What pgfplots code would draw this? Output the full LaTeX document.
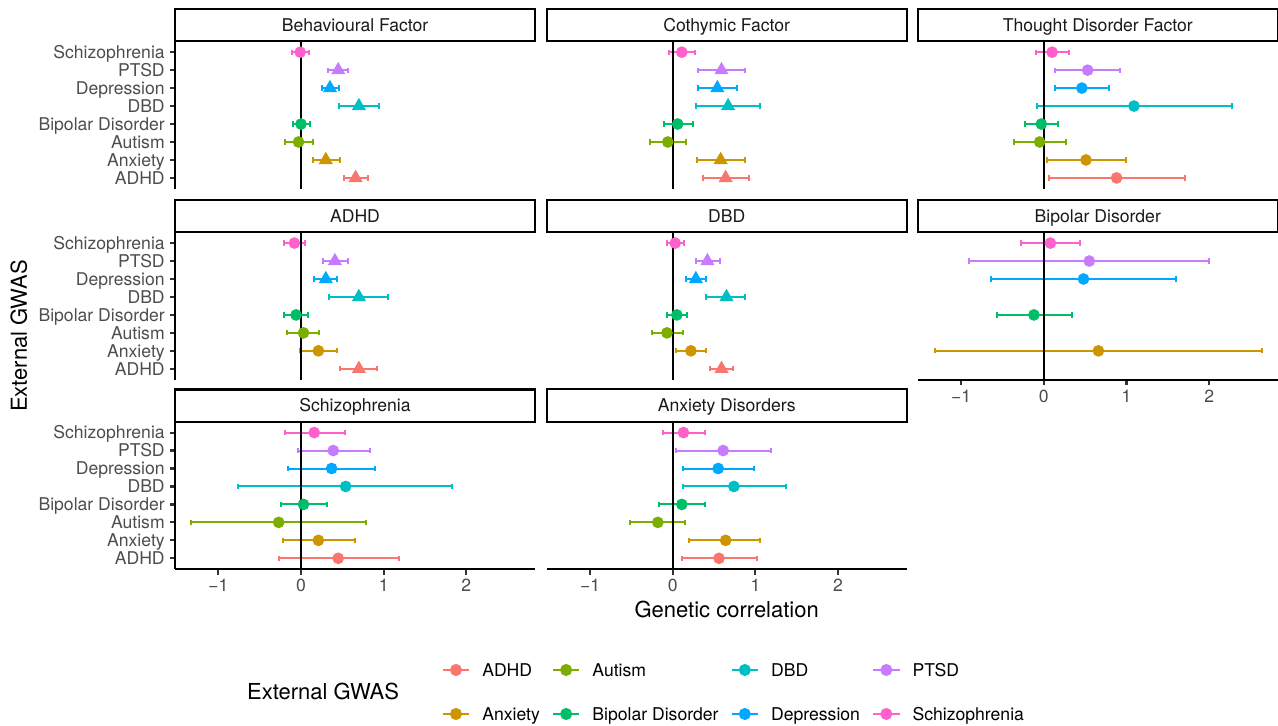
\documentclass[border=0pt]{standalone}
\usepackage{pgfplots}
\pgfplotsset{compat=1.18}
\usepackage{pgfplotstable}
\usepackage{fontspec}
\setmainfont{TeX Gyre Heros}
\definecolor{c0}{HTML}{F8766D}
\definecolor{c1}{HTML}{CD9600}
\definecolor{c2}{HTML}{7CAE00}
\definecolor{c3}{HTML}{00BE67}
\definecolor{c4}{HTML}{00BFC4}
\definecolor{c5}{HTML}{00A9FF}
\definecolor{c6}{HTML}{C77CFF}
\definecolor{c7}{HTML}{FF61CC}
\definecolor{gray30}{HTML}{4D4D4D}
\definecolor{gray20}{HTML}{333333}
\definecolor{gray10}{HTML}{1A1A1A}
\newcommand\axfont{\fontsize{8.8}{10.5}\selectfont}
\newcommand\titlefont{\fontsize{11}{13}\selectfont}

% k: 0 ADHD, 1 Anxiety, 2 Autism, 3 Bipolar Disorder, 4 DBD, 5 Depression, 6 PTSD, 7 Schizophrenia
% r: genetic correlation, lo/hi: interval, s: 1 = triangle
\pgfplotstableread{
k r lo hi s
0 0.66 0.52 0.81 1
1 0.30 0.14 0.47 1
2 -0.03 -0.19 0.14 0
3 0.00 -0.10 0.11 0
4 0.70 0.46 0.94 1
5 0.35 0.25 0.46 1
6 0.45 0.33 0.57 1
7 -0.01 -0.11 0.10 0
}\tabBeh
\pgfplotstableread{
k r lo hi s
0 0.64 0.37 0.92 1
1 0.58 0.29 0.88 1
2 -0.06 -0.27 0.16 0
3 0.06 -0.11 0.24 0
4 0.67 0.28 1.06 1
5 0.54 0.30 0.78 1
6 0.59 0.31 0.87 1
7 0.11 -0.04 0.27 0
}\tabCot
\pgfplotstableread{
k r lo hi s
0 0.88 0.06 1.71 0
1 0.51 0.04 0.99 0
2 -0.05 -0.36 0.27 0
3 -0.03 -0.23 0.17 0
4 1.09 -0.08 2.27 0
5 0.46 0.13 0.79 0
6 0.53 0.14 0.92 0
7 0.10 -0.09 0.30 0
}\tabTho
\pgfplotstableread{
k r lo hi s
0 0.70 0.47 0.92 1
1 0.21 -0.01 0.43 0
2 0.03 -0.17 0.22 0
3 -0.06 -0.20 0.08 0
4 0.70 0.34 1.05 1
5 0.30 0.16 0.44 1
6 0.41 0.26 0.57 1
7 -0.08 -0.20 0.05 0
}\tabADHD
\pgfplotstableread{
k r lo hi s
0 0.59 0.45 0.73 1
1 0.22 0.04 0.40 0
2 -0.07 -0.25 0.12 0
3 0.05 -0.07 0.17 0
4 0.65 0.40 0.88 1
5 0.28 0.16 0.40 1
6 0.42 0.28 0.57 1
7 0.03 -0.07 0.14 0
}\tabDBD
\pgfplotstableread{
k r lo hi s
1 0.66 -1.32 2.64 0
3 -0.12 -0.57 0.34 0
5 0.48 -0.64 1.60 0
6 0.55 -0.90 2.00 0
7 0.08 -0.28 0.44 0
}\tabBip
\pgfplotstableread{
k r lo hi s
0 0.45 -0.27 1.18 0
1 0.21 -0.22 0.65 0
2 -0.27 -1.33 0.78 0
3 0.03 -0.24 0.31 0
4 0.54 -0.76 1.83 0
5 0.37 -0.16 0.90 0
6 0.39 -0.04 0.83 0
7 0.16 -0.19 0.53 0
}\tabScz
\pgfplotstableread{
k r lo hi s
0 0.56 0.11 1.02 0
1 0.64 0.20 1.06 0
2 -0.18 -0.52 0.15 0
3 0.11 -0.17 0.39 0
4 0.74 0.12 1.37 0
5 0.55 0.12 0.98 0
6 0.61 0.04 1.19 0
7 0.13 -0.12 0.39 0
}\tabAnx

\tikzset{strip/.style={draw=black, fill=white, line width=1.1pt,
  minimum width=180pt, minimum height=16.2pt, inner sep=0pt, outer sep=0pt,
  font=\axfont, text=gray10, text height=6.3pt, text depth=0pt, anchor=south}}

\pgfplotsset{
  panel/.style={
    scale only axis, width=180pt, height=73.65pt,
    xmin=-1.524, xmax=2.83, ymin=-0.6, ymax=7.6,
    xtick={-1,0,1,2}, xticklabels={−1,0,1,2},
    ytick={0,1,...,7},
    yticklabels={ADHD,Anxiety,Autism,Bipolar Disorder,DBD,Depression,PTSD,Schizophrenia},
    axis x line*=bottom, axis y line*=left,
    axis line style={line width=1.07pt, black, -},
    tick style={line width=1.07pt, gray20},
    major tick length=2.75pt, tick align=outside,
    ticklabel style={font=\axfont, text=gray30, inner sep=0pt, text height=6.3pt, text depth=0pt},
    xticklabel style={yshift=-2.2pt},
    yticklabel style={xshift=-2.2pt},
    clip=false,
    anchor=north west,
    legend image code/.code={\draw[##1, mark repeat=2, mark phase=2] plot coordinates {(0pt,0pt) (6.65pt,0pt) (13.3pt,0pt)};},
  },
  pts/.style={only marks, scatter, point meta=explicit symbolic,
    scatter/classes={0={mark=*, mark size=2.4pt}, 1={mark=triangle*, mark size=3.1pt}},
    line width=1pt, forget plot,
    error bars/x dir=both, error bars/x explicit,
    error bars/error bar style={line width=1pt, solid},
    error bars/error mark=|,
    error bars/error mark options={line width=1pt, mark size=1.3pt, solid}},
}

\newcommand\panelplots[3]{%
  \pgfplotsinvokeforeach{#2}{%
    \addplot[color=c##1, restrict y to domain=##1:##1, pts]
      table[x=r, y=k, meta=s,
        x error plus expr={\thisrow{hi}-\thisrow{r}},
        x error minus expr={\thisrow{r}-\thisrow{lo}}] {#1};
  }
  \addplot[black, line width=1.07pt, forget plot] coordinates {(0,-0.6) (0,7.6)};
  \node[strip] at (rel axis cs:0.5,1) {#3};
}

\begin{document}
\begin{tikzpicture}
\useasboundingbox (0,0) rectangle (639pt,-363pt);

% Row 1
\begin{axis}[panel, at={(87.5pt,-20.7pt)}, hide x axis]
\panelplots{\tabBeh}{0,...,7}{Behavioural Factor}
\end{axis}
\begin{axis}[panel, at={(273.35pt,-20.7pt)}, hide x axis, hide y axis]
\panelplots{\tabCot}{0,...,7}{Cothymic Factor}
\end{axis}
\begin{axis}[panel, at={(458.9pt,-20.7pt)}, hide x axis, hide y axis]
\panelplots{\tabTho}{0,...,7}{Thought Disorder Factor}
\end{axis}

% Row 2
\begin{axis}[panel, at={(87.5pt,-116.15pt)}, hide x axis]
\panelplots{\tabADHD}{0,...,7}{ADHD}
\end{axis}
\begin{axis}[panel, at={(273.35pt,-116.15pt)}, hide x axis, hide y axis]
\panelplots{\tabDBD}{0,...,7}{DBD}
\end{axis}
\begin{axis}[panel, at={(458.9pt,-116.15pt)}, hide y axis]
\panelplots{\tabBip}{1,3,5,6,7}{Bipolar Disorder}
\end{axis}

% Row 3
\begin{axis}[panel, at={(87.5pt,-210.9pt)},
  legend columns=4, legend cell align=left,
  legend style={at={(0.7408,-0.8343)}, anchor=west, draw=none, fill=none,
    inner sep=0pt, outer sep=0pt, column sep=6pt, row sep=15.7pt,
    font=\axfont, text=black,
    nodes={inner sep=0pt, text height=6.3pt, text depth=0pt}}]
\panelplots{\tabScz}{0,...,7}{Schizophrenia}
\addlegendimage{c0, mark=*, mark size=2.5pt, line width=1pt}
\addlegendentry{ADHD}
\addlegendimage{c2, mark=*, mark size=2.5pt, line width=1pt}
\addlegendentry{Autism}
\addlegendimage{c4, mark=*, mark size=2.5pt, line width=1pt}
\addlegendentry{DBD}
\addlegendimage{c6, mark=*, mark size=2.5pt, line width=1pt}
\addlegendentry{PTSD}
\addlegendimage{c1, mark=*, mark size=2.5pt, line width=1pt}
\addlegendentry{Anxiety}
\addlegendimage{c3, mark=*, mark size=2.5pt, line width=1pt}
\addlegendentry{Bipolar Disorder}
\addlegendimage{c5, mark=*, mark size=2.5pt, line width=1pt}
\addlegendentry{Depression}
\addlegendimage{c7, mark=*, mark size=2.5pt, line width=1pt}
\addlegendentry{Schizophrenia}
\end{axis}
\begin{axis}[panel, at={(273.35pt,-210.9pt)}, hide y axis]
\panelplots{\tabAnx}{0,...,7}{Anxiety Disorders}
\end{axis}

\node[rotate=90, font=\titlefont, inner sep=0pt, text height=7.9pt, text depth=0pt] at (9.5pt,-168pt) {External GWAS};
\node[font=\titlefont, anchor=base, inner sep=0pt] at (363.35pt,-308.5pt) {Genetic correlation};
\node[font=\titlefont, anchor=west, inner sep=0pt, text height=7.9pt, text depth=0pt] at (123.35pt,-345.85pt) {External GWAS};
\end{tikzpicture}
\end{document}
